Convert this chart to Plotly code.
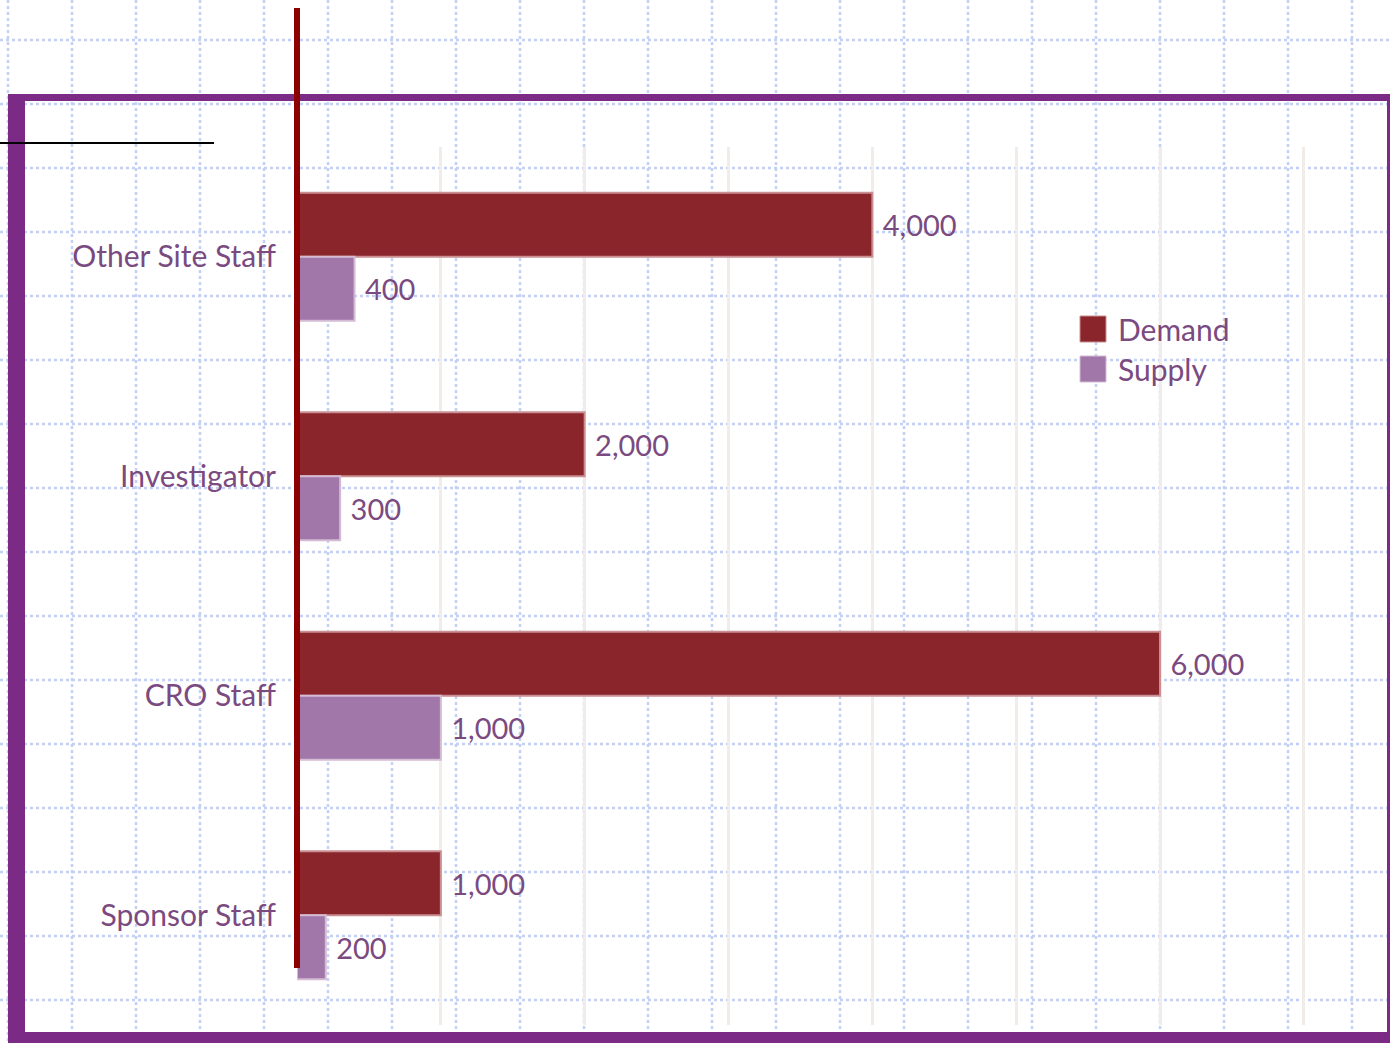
import plotly.graph_objects as go

# ---- data ----
categories = ["Other Site Staff", "Investigator", "CRO Staff", "Sponsor Staff"]
series_names = ["Demand", "Supply"]
demand = [4000, 2000, 6000, 1000]
supply = [400, 300, 1000, 200]

W, H = 1390, 1043
L, R, T, B = 297, 85, 147, 18
PW, PH = W - L - R, H - T - B

def px(x):
    return (x - L) / PW

def py(y):
    return (H - B - y) / PH

DEMAND_C = "#8a252b"
SUPPLY_C = "#a176a8"
TXT_C = "#7a4a80"
FONT = "Lato"

fig = go.Figure()
fig.add_trace(go.Bar(
    name=series_names[0], y=categories, x=demand, orientation="h",
    marker=dict(color=DEMAND_C, line=dict(color="#c98f93", width=2)),
    text=[f" {v:,}" for v in demand], textposition="outside",
    textfont=dict(family=FONT, size=29, color=TXT_C),
    constraintext="none", cliponaxis=False, showlegend=False,
))
fig.add_trace(go.Bar(
    name=series_names[1], y=categories, x=supply, orientation="h",
    marker=dict(color=SUPPLY_C, line=dict(color="#d4bcd4", width=2)),
    text=[f" {v:,}" for v in supply], textposition="outside",
    textfont=dict(family=FONT, size=29, color=TXT_C),
    constraintext="none", cliponaxis=False, showlegend=False,
))

shapes = []
# graph-paper background
GRID_C = "#c3d0f6"
for k in range(23):
    x = 8 + 64 * k
    shapes.append(dict(type="line", xref="paper", yref="paper", layer="below",
                       x0=px(x), x1=px(x), y0=py(0), y1=py(H),
                       line=dict(color=GRID_C, width=2.5, dash="dot")))
for k in range(17):
    y = 40 + 64 * k
    shapes.append(dict(type="line", xref="paper", yref="paper", layer="below",
                       x0=px(0), x1=px(W), y0=py(y), y1=py(y),
                       line=dict(color=GRID_C, width=2.5, dash="dot")))
# purple frame
FRAME_C = "#7b2a86"
for (x0, y0, x1, y1) in [(8, 94, 25, H + 2), (8, 94, W + 2, 101),
                         (8, 1032, W + 2, H + 2), (1387, 94, W + 2, H + 2)]:
    shapes.append(dict(type="rect", xref="paper", yref="paper", layer="below",
                       x0=px(x0), x1=px(x1), y0=py(y0), y1=py(y1),
                       fillcolor=FRAME_C, line=dict(width=0)))
# black line top-left
shapes.append(dict(type="line", xref="paper", yref="paper", layer="above",
                   x0=px(0), x1=px(214), y0=py(143), y1=py(143),
                   line=dict(color="#000000", width=2)))
# red axis line (at x = 0 of the value axis, i.e. left edge of plot area)
shapes.append(dict(type="line", xref="paper", yref="paper", layer="above",
                   x0=0, x1=0, y0=py(968), y1=py(8),
                   line=dict(color="#8b0000", width=6)))
# custom legend swatches
for i, (c, lc) in enumerate([(DEMAND_C, "#c98f93"), (SUPPLY_C, "#d4bcd4")]):
    y0 = 316 + 40 * i
    shapes.append(dict(type="rect", xref="paper", yref="paper", layer="above",
                       x0=px(1080), x1=px(1106), y0=py(y0), y1=py(y0 + 26),
                       fillcolor=c, line=dict(color=lc, width=1)))

annotations = []
for i, name in enumerate(series_names):
    annotations.append(dict(xref="paper", yref="paper", x=px(1116), y=py(329 + 40 * i),
                            xanchor="left", yanchor="middle", showarrow=False,
                            text=name, font=dict(family=FONT, size=30, color=TXT_C)))

fig.update_layout(
    width=W, height=H,
    margin=dict(l=L, r=R, t=T, b=B, pad=0),
    paper_bgcolor="white", plot_bgcolor="rgba(0,0,0,0)",
    barmode="group", bargap=0.417, bargroupgap=0,
    shapes=shapes, annotations=annotations, showlegend=False,
    xaxis=dict(range=[0, 7008], dtick=1000, tick0=0, showticklabels=False,
               showgrid=True, gridcolor="#f2ece8", gridwidth=3,
               zeroline=False, showline=False, ticks=""),
    yaxis=dict(categoryorder="array", categoryarray=categories, autorange="reversed",
               showgrid=False, zeroline=False, showline=False, ticks="",
               ticklabelstandoff=20,
               tickfont=dict(family=FONT, size=30, color=TXT_C)),
)

fig.write_html("out.html", config={"displayModeBar": False},
               post_script="document.body.style.margin='0';document.body.style.overflow='hidden';")
